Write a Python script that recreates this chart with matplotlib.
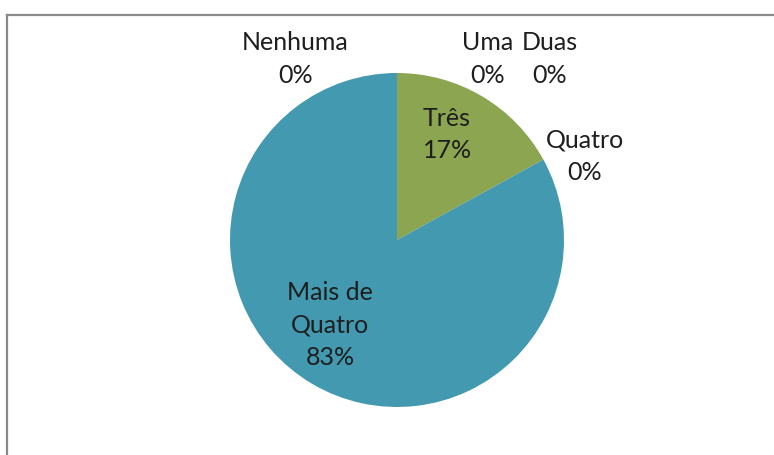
import matplotlib.pyplot as plt
from matplotlib.lines import Line2D

# data
categories = ['Nenhuma', 'Uma', 'Duas', 'Três', 'Quatro', 'Mais de\nQuatro']
values = [0, 0, 0, 17, 0, 83]
colors = ['#4f81bd', '#c0504d', '#9bbb59', '#8ba550', '#4bacc6', '#4399b0']

# label positions in pie units (radius = 1), tuned by eye
label_pos = [(-0.61, 1.084), (0.545, 1.084), (0.915, 1.084), (0.30, 0.632), (1.126, 0.50), (-0.40, -0.509)]

W, H = 774, 455
fig = plt.figure(figsize=(W / 100, H / 100), dpi=100)
fig.patch.set_facecolor('white')

cx, cy, r = 397, 240, 167
ax = fig.add_axes([(cx - r) / W, (H - cy - r) / H, 2 * r / W, 2 * r / H])
ax.pie(values, colors=colors, startangle=90, counterclock=False, radius=1,
       wedgeprops=dict(linewidth=0))
ax.set_xlim(-1, 1)
ax.set_ylim(-1, 1)
ax.set_aspect('equal')
ax.axis('off')

for cat, v, (x, y) in zip(categories, values, label_pos):
    ax.text(x, y, f'{cat}\n{v}%', ha='center', va='center', fontsize=18,
            family='Lato', color='#1e1e1e', linespacing=1.5)

# chart area border (top and left visible)
fig.add_artist(Line2D([7 / W, 1.0], [1 - 15 / H, 1 - 15 / H], color='#8a8a8a', lw=1.6))
fig.add_artist(Line2D([7 / W, 7 / W], [0.0, 1 - 15 / H], color='#8a8a8a', lw=1.6))

fig.savefig('out.png', dpi=100)
